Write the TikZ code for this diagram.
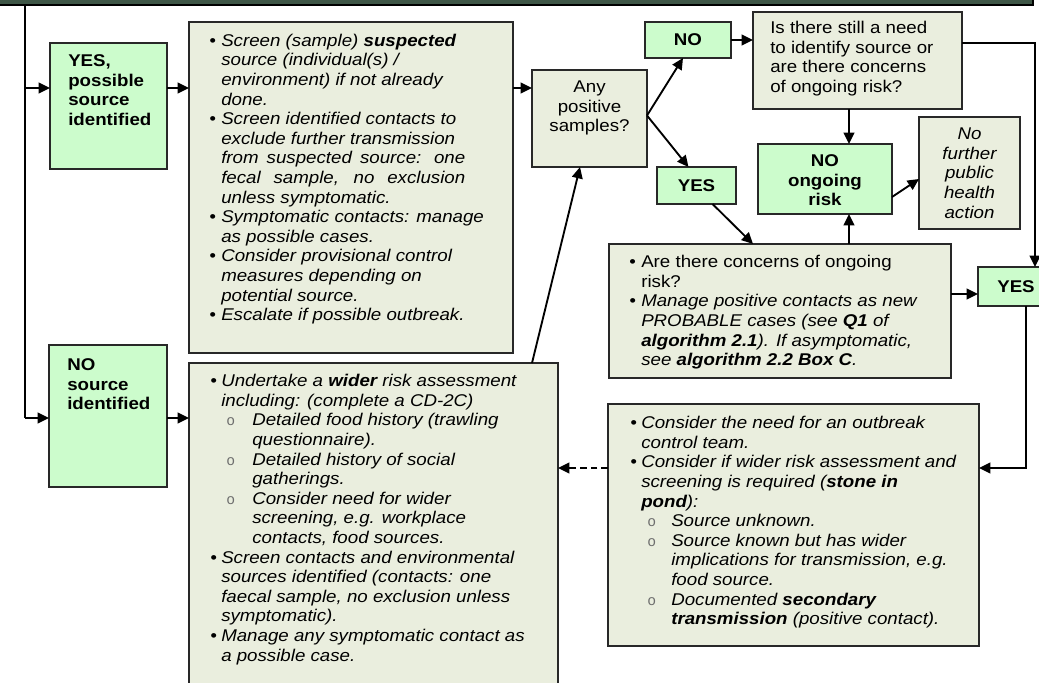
\documentclass[tikz,border=0pt]{standalone}
\usepackage{fontspec}
\setmainfont{Liberation Sans}[FakeStretch=1.1]
\newfontfamily\circlemono{Liberation Mono}
\usetikzlibrary{arrows.meta}

\newdimen\px \px=0.75pt
\definecolor{boxgreen}{RGB}{204,252,204}
\definecolor{boxgrey}{RGB}{234,238,222}
\definecolor{edge}{RGB}{40,40,40}
\definecolor{bardark}{RGB}{62,86,70}
\definecolor{subgrey}{RGB}{110,110,110}

\newcommand\bodysize{\fontsize{12.75}{14.7}\selectfont}
% bullet glyph followed by the gap up to the item text
\newcommand\itembul[1]{\makebox[#1\px][l]{\textbullet}}
% indented hollow sub-bullet
\newcommand\subbul[2]{\hspace*{#1\px}\makebox[#2\px][l]{\textcolor{subgrey}{\upshape\circlemono\fontsize{11}{11}\selectfont o}}}
\newcommand\ind[1]{\hspace*{#1\px}}

% box from corner (x1,y1) to (x2,y2), in pixel units
\newcommand\boxnode[7]{%
  \node[#1, minimum width={(#5-#3)*0.75pt}, minimum height={(#6-#4)*0.75pt}]
    (#2) at ({(#3+#5)/2},{(#4+#6)/2}) {#7};}

\tikzset{
  base/.style={inner sep=0pt, outer sep=0pt, line width=1.4pt, draw=edge},
  greenbox/.style={base, fill=boxgreen, font=\bodysize\bfseries},
  greybox/.style={base, fill=boxgrey},
  barbox/.style={base, draw=black, fill=bardark},
  txt/.style={inner sep=0pt, align=left, anchor=north west},
  ctxt/.style={inner sep=0pt, align=center, anchor=north},
  link/.style={line width=1.4pt, draw=black},
  arr/.style={link, -{Triangle[length=8.5pt,width=8pt]}},
  darr/.style={arr, dash pattern=on 5pt off 3pt},
}

\begin{document}
\begin{tikzpicture}[x=0.75pt, y=-0.75pt, font=\bodysize]
\useasboundingbox (0,0) rectangle (1039,682);
\clip (0,0) rectangle (1039,682);
\fill[white] (0,0) rectangle (1039,682);

% ---- boxes ----
\boxnode{barbox}{topbar}{-10}{-30}{1033}{5}{}
\boxnode{greenbox}{yes1}{50}{43}{167}{169}{}
\boxnode{greybox}{box1}{189}{22}{513}{353}{}
\boxnode{greybox}{any}{532}{70}{647}{167}{}
\boxnode{greenbox}{no1}{645}{22}{731}{58}{NO}
\boxnode{greybox}{isthere}{753}{12}{962}{109}{}
\boxnode{greenbox}{yes2}{657}{167}{736}{204}{YES}
\boxnode{greenbox}{noongoing}{758}{144}{892}{214}{}
\boxnode{greybox}{nofurther}{919}{117}{1020}{229}{}
\boxnode{greybox}{concerns}{609}{244}{951}{378}{}
\boxnode{greenbox}{yes3}{978}{267}{1054}{306}{YES}
\boxnode{greybox}{consider}{608}{404}{979}{646}{}
\boxnode{greenbox}{nosrc}{49}{345}{167}{487}{}
\boxnode{greybox}{box2}{189}{363}{558}{710}{}

% ---- box texts ----
\node[txt, font=\bodysize\bfseries] (yes1t) at (68,52.7)
  {\strut YES,\\possible\\source\\identified};
\node[txt, font=\bodysize\bfseries] (nosrct) at (67,356.7)
  {\strut NO\\source\\identified};

\node[txt, font=\bodysize\itshape] (box1t) at (209,32.4) {\strut
\itembul{12}Screen (sample) \textbf{suspected}\\
\ind{12}source (individual(s) /\\
\ind{12}environment) if not already\\
\ind{12}done.\\
\itembul{12}Screen identified contacts to\\
\ind{12}exclude further transmission\\
\ind{12}\makebox[244\px][s]{from suspected source: one}\\
\ind{12}\makebox[244\px][s]{fecal sample, no exclusion}\\
\ind{12}unless symptomatic.\\
\itembul{12}Symptomatic contacts: manage\\
\ind{12}as possible cases.\\
\itembul{12}Consider provisional control\\
\ind{12}measures depending on\\
\ind{12}potential source.\\
\itembul{12}Escalate if possible outbreak.};

\node[ctxt, font=\bodysize] (anyt) at (589.5,78.7) {\strut Any\\positive\\samples?};

\node[txt, font=\bodysize] (istheret) at (770,19.7)
  {\strut Is there still a need\\to identify source or\\are there concerns\\of ongoing risk?};

\node[ctxt, font=\bodysize\bfseries] (noongoingt) at (825,152.7) {\strut NO\\ongoing\\risk};

\node[ctxt, font=\bodysize\itshape] (nofurthert) at (969.5,125.7)
  {\strut No\\further\\public\\health\\action};

\node[txt, font=\bodysize] (concernst) at (629,253.7) {\strut
\itembul{12}Are there concerns of ongoing\\
\ind{12}risk?\\
\itshape\itembul{12}Manage positive contacts as new\\
\itshape\ind{12}PROBABLE cases (see \textbf{Q1} of\\
\itshape\ind{12}\textbf{algorithm 2.1}). If asymptomatic,\\
\itshape\ind{12}see \textbf{algorithm 2.2 Box C}.};

\node[txt, font=\bodysize\itshape] (considert) at (630,414.7) {\strut
\itembul{11}Consider the need for an outbreak\\
\ind{11}control team.\\
\itembul{11}Consider if wider risk assessment and\\
\ind{11}screening is required (\textbf{stone in}\\
\ind{11}\textbf{pond}):\\
\subbul{17}{24}Source unknown.\\
\subbul{17}{24}Source known but has wider\\
\ind{41}implications for transmission, e.g.\\
\ind{41}food source.\\
\subbul{17}{24}Documented \textbf{secondary}\\
\ind{41}\textbf{transmission} (positive contact).};

\node[txt, font=\bodysize\itshape] (box2t) at (210,372.7) {\strut
\itembul{11}Undertake a \textbf{wider} risk assessment\\
\ind{11}including: (complete a CD-2C)\\
\subbul{16}{26}Detailed food history (trawling\\
\ind{42}questionnaire).\\
\subbul{16}{26}Detailed history of social\\
\ind{42}gatherings.\\
\subbul{16}{26}Consider need for wider\\
\ind{42}screening, e.g. workplace\\
\ind{42}contacts, food sources.\\
\itembul{11}Screen contacts and environmental\\
\ind{11}sources identified (contacts: one\\
\ind{11}faecal sample, no exclusion unless\\
\ind{11}symptomatic).\\
\itembul{11}Manage any symptomatic contact as\\
\ind{11}a possible case.};

% ---- connectors ----
\coordinate (trunk) at (25,5);
\coordinate (jy) at (25,88);
\coordinate (jn) at (25,418);
\draw[link] (trunk) -- (jn);
\draw[arr] (jy) -- (jy -| yes1.west);
\draw[arr] (jn) -- (jn -| nosrc.west);

\coordinate (ya) at (0,88);
\draw[arr] (ya -| yes1.east) -- (ya -| box1.west);
\draw[arr] (ya -| box1.east) -- (ya -| any.west);
\coordinate (yn) at (0,418);
\draw[arr] (yn -| nosrc.east) -- (yn -| box2.west);

\draw[arr] ([xshift=-26\px]box2.north east) -- ([xshift=48\px]any.south west);

\draw[arr] ([yshift=3\px]any.east) -- ([xshift=-5\px]no1.south);
\draw[arr] ([yshift=3\px]any.east) -- ([xshift=-8\px]yes2.north);
\draw[arr] (no1.east) -- (no1.east -| isthere.west);

\coordinate (xv) at (849,0);
\draw[arr] (xv |- isthere.south) -- (xv |- noongoing.north);
\draw[arr] (xv |- concerns.north) -- (xv |- noongoing.south);
\draw[arr] ([yshift=-18\px]noongoing.east) -- ([yshift=-6\px]nofurther.west);
\draw[arr] ([xshift=16\px]yes2.south) -- ([xshift=-27\px]concerns.north);

\coordinate (yc) at (0,294);
\draw[arr] (yc -| concerns.east) -- (yc -| yes3.west);

\coordinate (rt) at (1035,43);
\draw[arr] (rt -| isthere.east) -- (rt) -- (rt |- yes3.north);

\coordinate (rb) at (1026,468);
\draw[arr] (rb |- yes3.south) -- (rb) -- (rb -| consider.east);
\draw[darr] (rb -| consider.west) -- (rb -| box2.east);
\end{tikzpicture}
\end{document}
